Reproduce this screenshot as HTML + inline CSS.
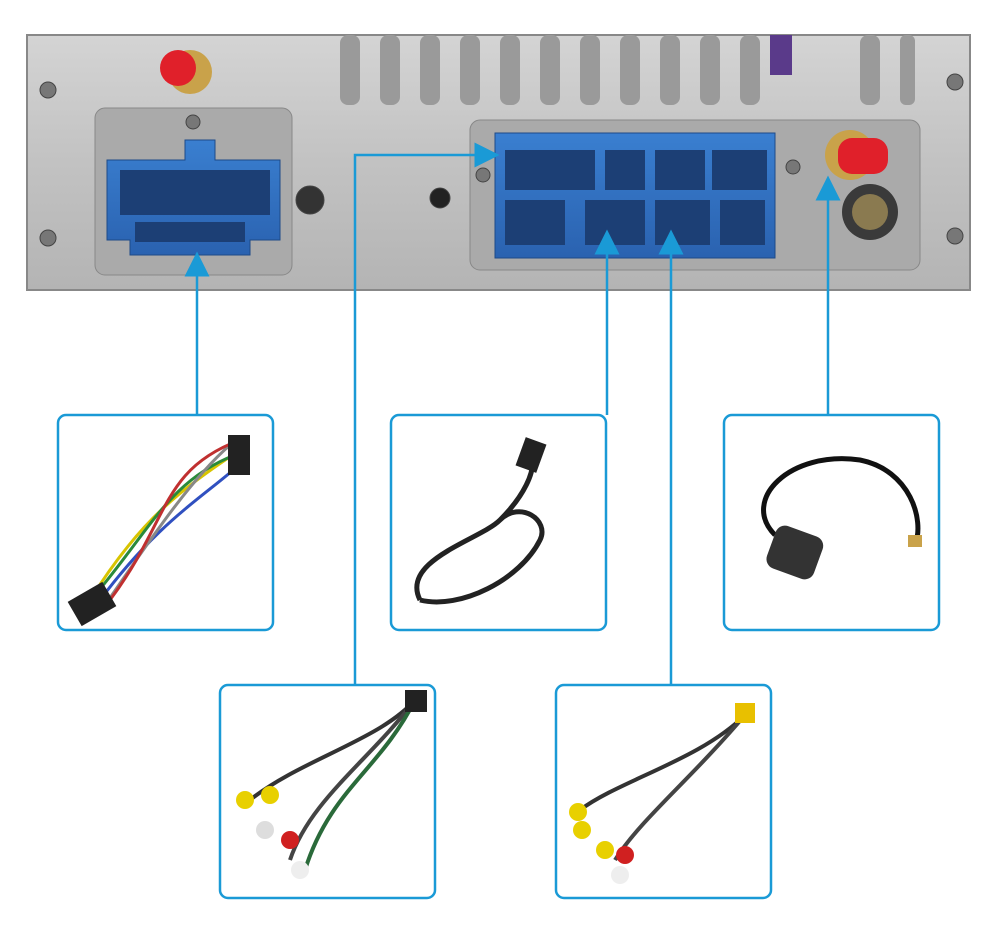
<!DOCTYPE html>
<html><head><meta charset="utf-8"><style>
html,body{margin:0;padding:0;background:#fff;width:1000px;height:936px;overflow:hidden}
</style></head><body>
<svg width="1000" height="936" viewBox="0 0 1000 936" xmlns="http://www.w3.org/2000/svg">
<defs>
<linearGradient id="metal" x1="0" y1="0" x2="0" y2="1">
<stop offset="0" stop-color="#d4d4d4"/><stop offset="0.5" stop-color="#c2c2c2"/><stop offset="1" stop-color="#b4b4b4"/></linearGradient>
<linearGradient id="blue" x1="0" y1="0" x2="0" y2="1">
<stop offset="0" stop-color="#3a7fd0"/><stop offset="1" stop-color="#2a62b0"/></linearGradient>
<marker id="ar" markerWidth="10" markerHeight="10" refX="5" refY="5" orient="auto">
<path d="M0,0 L10,5 L0,10 z" fill="#1a9ad6"/></marker>
</defs>
<!-- panel -->
<rect x="27" y="35" width="943" height="255" fill="url(#metal)" stroke="#888" stroke-width="2"/>
<!-- fins -->
<g fill="#9a9a9a">
<rect x="340" y="35" width="20" height="70" rx="8"/><rect x="380" y="35" width="20" height="70" rx="8"/>
<rect x="420" y="35" width="20" height="70" rx="8"/><rect x="460" y="35" width="20" height="70" rx="8"/>
<rect x="500" y="35" width="20" height="70" rx="8"/><rect x="540" y="35" width="20" height="70" rx="8"/>
<rect x="580" y="35" width="20" height="70" rx="8"/><rect x="620" y="35" width="20" height="70" rx="8"/>
<rect x="660" y="35" width="20" height="70" rx="8"/><rect x="700" y="35" width="20" height="70" rx="8"/>
<rect x="740" y="35" width="20" height="70" rx="8"/><rect x="860" y="35" width="20" height="70" rx="8"/>
<rect x="900" y="35" width="15" height="70" rx="6"/>
</g>
<rect x="770" y="35" width="22" height="40" fill="#5a3a8a"/>
<!-- recesses -->
<rect x="95" y="108" width="197" height="167" rx="10" fill="#aaa" stroke="#888"/>
<rect x="470" y="120" width="450" height="150" rx="10" fill="#aaa" stroke="#888"/>
<!-- blue connectors -->
<path d="M107,160 H185 V140 H215 V160 H280 V240 H250 V255 H130 V240 H107 Z" fill="url(#blue)" stroke="#1d4a88"/>
<rect x="495" y="133" width="280" height="125" fill="url(#blue)" stroke="#1d4a88"/>
<g fill="#1c3f75">
<rect x="505" y="150" width="90" height="40"/><rect x="605" y="150" width="40" height="40"/>
<rect x="655" y="150" width="50" height="40"/><rect x="712" y="150" width="55" height="40"/>
<rect x="505" y="200" width="60" height="45"/><rect x="585" y="200" width="60" height="45"/>
<rect x="655" y="200" width="55" height="45"/><rect x="720" y="200" width="45" height="45"/>
<rect x="120" y="170" width="150" height="45"/><rect x="135" y="222" width="110" height="20"/>
</g>
<!-- screws -->
<g fill="#777" stroke="#444">
<circle cx="48" cy="90" r="8"/><circle cx="48" cy="238" r="8"/><circle cx="955" cy="82" r="8"/>
<circle cx="955" cy="236" r="8"/><circle cx="193" cy="122" r="7"/><circle cx="483" cy="175" r="7"/>
<circle cx="793" cy="167" r="7"/><circle cx="440" cy="198" r="10" fill="#222"/><circle cx="310" cy="200" r="14" fill="#333"/>
</g>
<!-- antenna connectors -->
<circle cx="190" cy="72" r="22" fill="#c9a24a"/><circle cx="178" cy="68" r="18" fill="#e0202a"/>
<circle cx="850" cy="155" r="25" fill="#c9a24a"/><rect x="838" y="138" width="50" height="36" rx="14" fill="#e0202a"/>
<circle cx="870" cy="212" r="28" fill="#3a3a3a"/><circle cx="870" cy="212" r="18" fill="#8a7a50"/>
<!-- lines -->
<g stroke="#1a9ad6" stroke-width="2.5" fill="none" marker-end="url(#ar)">
<path d="M197,415 V264"/>
<path d="M355,685 V155 H487"/>
<path d="M607,415 V242"/>
<path d="M671,685 V242"/>
<path d="M828,415 V188"/>
</g>
<!-- boxes -->
<g fill="#fff" stroke="#1a9ad6" stroke-width="2.5">
<rect x="58" y="415" width="215" height="215" rx="8"/>
<rect x="391" y="415" width="215" height="215" rx="8"/>
<rect x="724" y="415" width="215" height="215" rx="8"/>
<rect x="220" y="685" width="215" height="213" rx="8"/>
<rect x="556" y="685" width="215" height="213" rx="8"/>
</g>
<!-- contents: wiring harness -->
<g stroke-width="3" fill="none">
<path d="M90,600 C140,520 180,490 240,450" stroke="#d8c400"/>
<path d="M95,595 C150,530 170,480 235,455" stroke="#2a8a3a"/>
<path d="M100,600 C160,520 200,500 245,460" stroke="#3050c0"/>
<path d="M105,605 C150,540 190,480 230,445" stroke="#888"/>
<path d="M110,600 C170,520 160,470 240,440" stroke="#c03030"/>
</g>
<rect x="72" y="590" width="40" height="28" fill="#222" transform="rotate(-30 92 604)"/>
<rect x="228" y="435" width="22" height="40" fill="#222"/>
<!-- usb cable -->
<path d="M420,600 C400,560 480,540 500,520 C520,500 540,470 530,450 M420,600 C460,610 520,580 540,540 C550,520 520,500 500,520" stroke="#222" stroke-width="5" fill="none"/>
<rect x="520" y="440" width="22" height="30" fill="#222" transform="rotate(20 531 455)"/>
<!-- gps -->
<path d="M775,535 C740,500 790,450 860,460 C910,470 925,520 915,545" stroke="#111" stroke-width="5" fill="none"/>
<rect x="770" y="530" width="50" height="45" rx="10" fill="#333" transform="rotate(20 795 552)"/>
<rect x="908" y="535" width="14" height="12" fill="#c9a24a"/>
<!-- rca 1 -->
<g stroke-width="4" fill="none">
<path d="M415,700 C380,740 300,760 250,800" stroke="#333"/>
<path d="M415,700 C370,760 310,800 290,860" stroke="#444"/>
<path d="M415,700 C380,770 330,790 305,870" stroke="#2a6a3a"/>
</g>
<rect x="405" y="690" width="22" height="22" fill="#222"/>
<g><circle cx="245" cy="800" r="9" fill="#e8d000"/><circle cx="270" cy="795" r="9" fill="#e8d000"/>
<circle cx="265" cy="830" r="9" fill="#ddd"/><circle cx="290" cy="840" r="9" fill="#d02020"/><circle cx="300" cy="870" r="9" fill="#eee"/></g>
<!-- rca 2 -->
<g stroke-width="4" fill="none">
<path d="M745,715 C700,760 620,780 580,810" stroke="#333"/>
<path d="M745,715 C690,780 640,820 615,860" stroke="#444"/>
</g>
<rect x="735" y="703" width="20" height="20" fill="#e8c000"/>
<g><circle cx="578" cy="812" r="9" fill="#e8d000"/><circle cx="582" cy="830" r="9" fill="#e8d000"/>
<circle cx="605" cy="850" r="9" fill="#e8d000"/><circle cx="625" cy="855" r="9" fill="#d02020"/><circle cx="620" cy="875" r="9" fill="#eee"/></g>
</svg>
</body></html>
